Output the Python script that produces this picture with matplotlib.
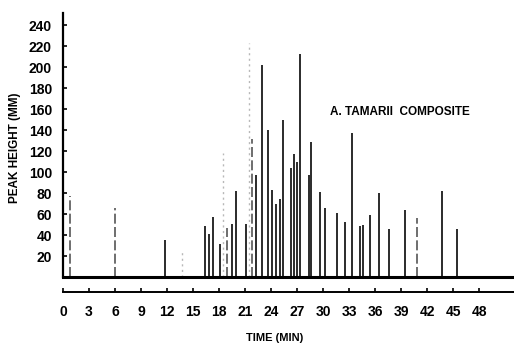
import matplotlib.pyplot as plt

# retention time (min) and peak height (mm) for each peak
peak_times = [0.81, 6.0, 11.76, 13.69, 16.38, 16.84, 17.27, 18.07, 18.5, 18.88,
              19.49, 19.99, 21.14, 21.4, 21.8, 22.23, 22.92, 23.68, 24.07, 24.57,
              25.03, 25.37, 26.26, 26.67, 27.02, 27.34, 28.37, 28.57, 29.61, 30.25,
              31.63, 32.49, 33.33, 34.2, 34.57, 35.44, 36.48, 37.64, 39.41, 40.86,
              43.71, 45.44]
peak_heights = [77, 66, 35, 26, 49, 41, 57, 31, 118, 47,
                51, 82, 51, 223, 132, 97, 202, 140, 83, 70,
                74, 150, 104, 117, 110, 213, 97, 129, 81, 66,
                61, 52, 137, 49, 50, 59, 80, 46, 64, 56,
                82, 46]
# how each peak was traced: s = solid, d = dashed, f = faint dotted
peak_kinds = ["d", "d", "s", "f", "s", "s", "s", "s", "f", "d",
              "s", "s", "s", "f", "d", "s", "s", "s", "s", "s",
              "s", "s", "s", "s", "s", "s", "s", "s", "s", "s",
              "s", "s", "s", "s", "s", "s", "s", "s", "s", "d",
              "s", "s"]

y_ticks = list(range(20, 241, 20))
x_ticks = list(range(0, 49, 3))

plt.rcParams["font.family"] = ["Liberation Sans", "DejaVu Sans"]

fig = plt.figure(figsize=(5.14, 3.45), dpi=100)
ax = fig.add_axes([0.1226, 0.1971, 0.8774, 0.766])

styles = {
    "s": dict(colors="#1a1a1a", linestyles="solid", linewidths=1.3),
    "d": dict(colors="#555555", linestyles=(0, (6, 2)), linewidths=1.2),
    "f": dict(colors="#b8b8b8", linestyles=(0, (1.5, 2.5)), linewidths=1.0),
}
for kind, kw in styles.items():
    xs = [t for t, k in zip(peak_times, peak_kinds) if k == kind]
    hs = [h for h, k in zip(peak_heights, peak_kinds) if k == kind]
    ax.vlines(xs, 0, hs, **kw)

# baseline of the chromatogram
ax.axhline(0, color="black", lw=2.2, clip_on=False)

ax.set_xlim(0, 52.0)
ax.set_ylim(0, 252)

ax.spines["top"].set_visible(False)
ax.spines["right"].set_visible(False)
ax.spines["left"].set_linewidth(1.6)
ax.spines["bottom"].set_linewidth(1.4)
ax.spines["bottom"].set_position(("outward", 10.6))

ax.set_yticks(y_ticks)
ax.set_xticks(x_ticks)
ax.tick_params(axis="y", direction="in", length=3, width=1.2, pad=8,
               labelsize=10)
ax.tick_params(axis="x", direction="in", length=3, width=1.2, pad=9.5,
               labelsize=10)
for lbl in ax.get_xticklabels() + ax.get_yticklabels():
    lbl.set_fontweight("bold")

ax.text(30.8, 157, "A. TAMARII  COMPOSITE", fontsize=8.5, fontweight="bold",
        va="center", ha="left")

fig.text(15 / 514, 1 - 148 / 345, "PEAK HEIGHT (MM)", rotation=90,
         fontsize=8.5, fontweight="bold", ha="center", va="center")
fig.text(274.5 / 514, 1 - 338 / 345, "TIME (MIN)", fontsize=8,
         fontweight="bold", ha="center", va="center")

fig.savefig("out.png", dpi=100)
